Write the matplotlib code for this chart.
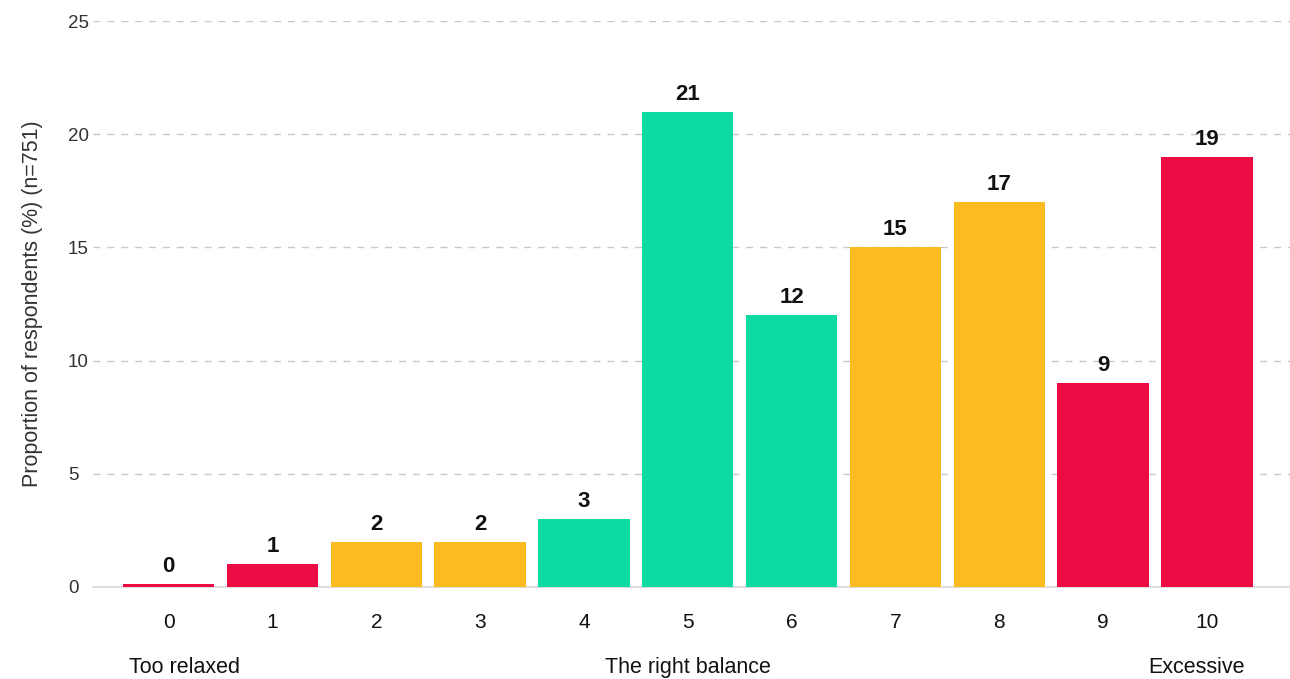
import numpy as np
import matplotlib.pyplot as plt

plt.rcParams['font.family'] = ['Liberation Sans', 'DejaVu Sans']

scores = ['0', '1', '2', '3', '4', '5', '6', '7', '8', '9', '10']
values = [0.15, 1, 2, 2, 3, 21, 12, 15, 17, 9, 19]
labels = ['0', '1', '2', '2', '3', '21', '12', '15', '17', '9', '19']
groups = ['red', 'red', 'yellow', 'yellow', 'green', 'green', 'green',
          'yellow', 'yellow', 'red', 'red']
palette = {'red': '#EA0C42', 'yellow': '#FBBC22', 'green': '#0EDBA1'}
band_labels = ['Too relaxed', 'The right balance', 'Excessive']
band_pos = [0.15, 5.0, 9.9]

fig = plt.figure(figsize=(12.9, 6.79), dpi=100)
ax = fig.add_axes([0.072, 0.1355, 0.928, 0.8335])

x = np.arange(len(scores))
ax.bar(x, values, width=0.88, color=[palette[g] for g in groups], zorder=3)

for xi, v, lab in zip(x, values, labels):
    ax.annotate(lab, (xi, v), xytext=(0, 5), textcoords='offset points',
                ha='center', va='bottom', fontsize=16, fontweight='bold',
                color='#111111', zorder=4)

ax.set_xlim(-0.73, 10.8)
ax.set_ylim(0, 25)
ax.set_yticks([0, 5, 10, 15, 20, 25])
ax.set_xticks(x)
ax.set_xticklabels(scores, fontsize=15, color='#111111')
ax.tick_params(axis='x', length=0, pad=19)
ax.tick_params(axis='y', length=0, pad=18, labelsize=13.5, labelcolor='#333333')
for t in ax.get_yticklabels():
    t.set_horizontalalignment('left')

ax.yaxis.grid(True, linestyle=(0, (5, 5)), color='#c8c8c8', linewidth=1, zorder=0)
for s in ['top', 'right', 'left']:
    ax.spines[s].set_visible(False)
ax.spines['bottom'].set_color('#dddddd')
ax.spines['bottom'].set_linewidth(1.5)

ax.set_ylabel('Proportion of respondents (%) (n=751)', fontsize=15.5,
              color='#333333')
ax.yaxis.set_label_coords(-0.042, 0.5)

for lab, p in zip(band_labels, band_pos):
    ax.text(p, -3.55, lab, ha='center', va='center', fontsize=15.5,
            color='#111111', transform=ax.transData)

fig.savefig('out.png', dpi=100)
